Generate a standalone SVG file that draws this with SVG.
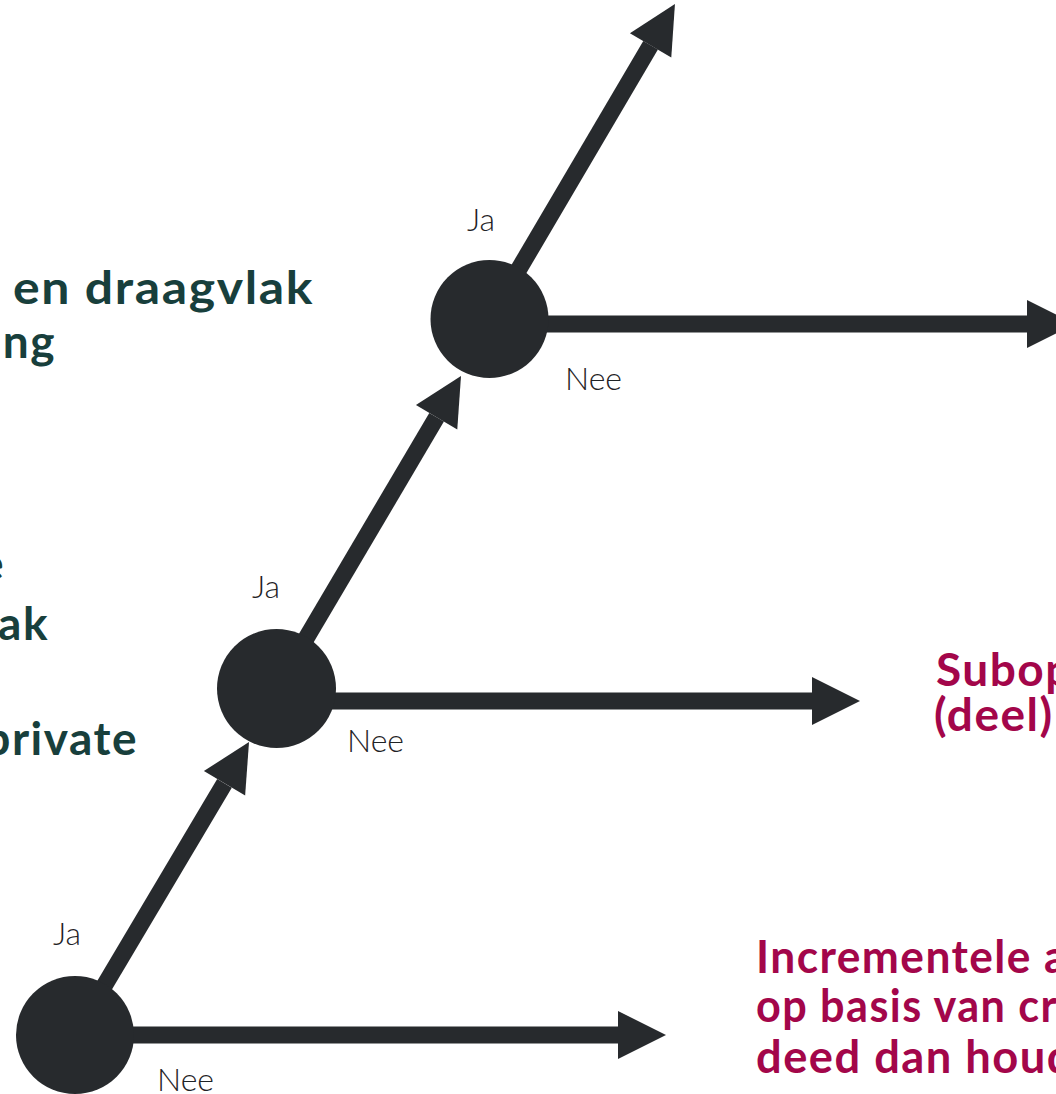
<svg xmlns="http://www.w3.org/2000/svg" width="1056" height="1094" viewBox="0 0 1056 1094">
  <style>
    .edge { stroke: #272a2d; stroke-width: 17; fill: none; marker-end: url(#head); }
    .node { fill: #272a2d; }
    .lbl { font-family: "Lato", "Liberation Sans", sans-serif; font-size: 32px; font-weight: 300; fill: #1f2326; }
    .green { font-family: "Lato", "Liberation Sans", sans-serif; font-size: 46px; font-weight: 700; fill: #183f3c; letter-spacing: 1.5px; }
    .red { font-family: "Lato", "Liberation Sans", sans-serif; font-size: 46px; font-weight: 700; fill: #a3064a; letter-spacing: 1.5px; }
  </style>
  <defs>
    <marker id="head" markerUnits="userSpaceOnUse" markerWidth="48" markerHeight="48" refX="0" refY="24" orient="auto" overflow="visible">
      <path d="M0,0 L48,24 L0,48 Z" fill="#272a2d"/>
    </marker>
  </defs>
  <rect width="1056" height="1094" fill="#ffffff"/>

  <!-- criteria text on the left -->
  <g id="criteria-1">
    <text class="green" x="13" y="304" textLength="301" lengthAdjust="spacingAndGlyphs">en draagvlak</text>
    <text class="green" x="56" y="358" text-anchor="end">ng</text>
  </g>
  <g id="criteria-2">
    <text class="green" x="5" y="580" text-anchor="end">e</text>
    <text class="green" x="49" y="640" text-anchor="end">ak</text>
    <text class="green" x="138" y="755" text-anchor="end">private</text>
  </g>

  <!-- outcome text on the right -->
  <g id="outcome-2">
    <text class="red" x="936" y="686">Subop</text>
    <text class="red" x="934" y="731">(deel)</text>
  </g>
  <g id="outcome-3">
    <text class="red" x="756" y="973" textLength="312" lengthAdjust="spacingAndGlyphs">Incrementele a</text>
    <text class="red" x="756" y="1022" textLength="302" lengthAdjust="spacingAndGlyphs">op basis van cr</text>
    <text class="red" x="756" y="1073" textLength="318" lengthAdjust="spacingAndGlyphs">deed dan houd</text>
  </g>

  <!-- arrows between decision points -->
  <g id="connectors">
    <line class="edge" x1="489.5" y1="324" x2="1027" y2="324"/>
    <line class="edge" x1="276.5" y1="701" x2="812" y2="701"/>
    <line class="edge" x1="75" y1="1035" x2="618" y2="1035"/>
    <line class="edge" x1="75" y1="1035" x2="224.5" y2="783.3"/>
    <line class="edge" x1="276.5" y1="688.5" x2="436.6" y2="417.3"/>
    <line class="edge" x1="489.5" y1="319" x2="650.6" y2="45.3"/>
    <text class="lbl" x="467" y="231">Ja</text>
    <text class="lbl" x="565" y="390">Nee</text>
    <text class="lbl" x="252" y="598">Ja</text>
    <text class="lbl" x="347" y="752">Nee</text>
    <text class="lbl" x="53" y="945">Ja</text>
    <text class="lbl" x="157" y="1091">Nee</text>
  </g>

  <!-- decision points -->
  <g id="decision-1"><circle class="node" cx="489.5" cy="319" r="59"/></g>
  <g id="decision-2"><circle class="node" cx="276.5" cy="688.5" r="59.5"/></g>
  <g id="decision-3"><circle class="node" cx="75" cy="1035" r="59"/></g>
</svg>
